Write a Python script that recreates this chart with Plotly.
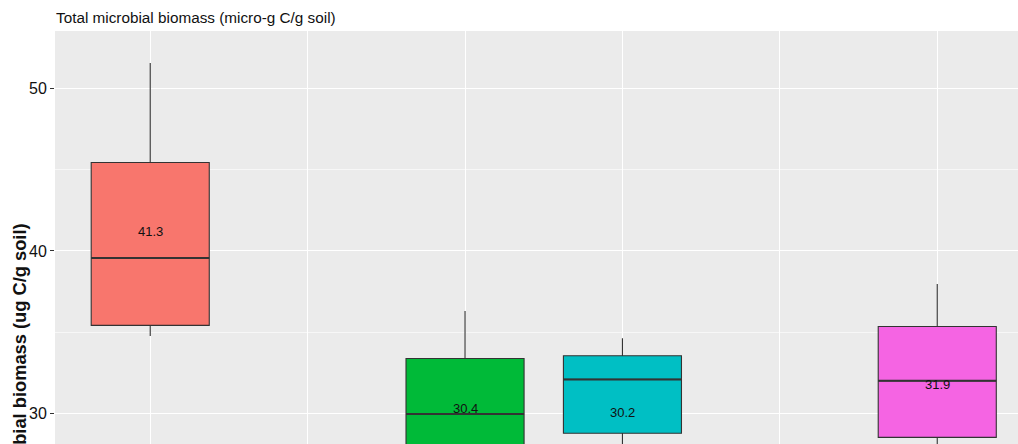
import plotly.graph_objects as go

# ---- data ----
positions = [1, 3, 4, 6]                      # category slots (6 slots on the axis)
colors = ["#F8766D", "#00BA38", "#00BFC4", "#F564E3"]
upper_whisker = [51.58, 36.30, 34.62, 37.96]
q3_values = [45.45, 33.38, 33.55, 35.35]
medians = [39.57, 29.96, 32.09, 32.00]
q1_values = [35.42, 26.50, 28.77, 28.52]
lower_whisker = [34.76, 24.00, 26.00, 26.00]
means = [41.3, 30.4, 30.2, 31.9]
mean_labels = ["41.3", "30.4", "30.2", "31.9"]
category_slots = [1, 2, 3, 4, 5, 6]
y_ticks = [30, 40, 50]
y_minor = [35, 45]

FONT = "Liberation Sans, Arial, sans-serif"
BOX_W = 0.75

fig = go.Figure()
for i in range(len(positions)):
    fig.add_trace(go.Box(
        x=[positions[i]],
        q1=[q1_values[i]], median=[medians[i]], q3=[q3_values[i]],
        lowerfence=[lower_whisker[i]], upperfence=[upper_whisker[i]],
        width=BOX_W,
        whiskerwidth=0,
        fillcolor=colors[i],
        line=dict(color="#333333", width=1.1),
        boxpoints=False,
        showlegend=False,
        hoverinfo="skip",
    ))

# thicker median bars (ggplot draws the median twice as thick)
med_x, med_y = [], []
for p, m in zip(positions, medians):
    med_x += [p - BOX_W / 2, p + BOX_W / 2, None]
    med_y += [m, m, None]
fig.add_trace(go.Scatter(
    x=med_x, y=med_y, mode="lines",
    line=dict(color="#333333", width=2),
    showlegend=False, hoverinfo="skip",
))

annotations = []
for p, m, lab in zip(positions, means, mean_labels):
    annotations.append(dict(
        x=p, y=m, xref="x", yref="y", text=lab, showarrow=False,
        xanchor="center", yanchor="middle", yshift=-2,
        font=dict(family=FONT, size=13, color="#111111"),
    ))

annotations.append(dict(
    text="<b>Total microbial biomass (ug C/g soil)</b>",
    textangle=-90,
    xref="paper", yref="paper",
    x=(19.5 - 55) / 963, y=(444 - 221) / 413,
    xanchor="center", yanchor="top",
    showarrow=False,
    font=dict(family=FONT, size=18.3, color="#111111"),
))

fig.update_layout(
    width=1018, height=444,
    margin=dict(l=55, r=0, t=31, b=0),
    paper_bgcolor="white",
    plot_bgcolor="#EBEBEB",
    font=dict(family=FONT),
    title=dict(
        text="Total microbial biomass (micro-g C/g soil)",
        x=56 / 1018, xref="container", xanchor="left",
        y=1 - 17.5 / 444, yref="container", yanchor="middle",
        font=dict(family=FONT, size=15.3, color="#111111"),
    ),
    xaxis=dict(
        range=[0.395, 6.513],
        tickmode="array", tickvals=category_slots,
        showticklabels=False, ticks="",
        showgrid=True, gridcolor="white", gridwidth=1.1,
        zeroline=False, showline=False,
    ),
    yaxis=dict(
        range=[28.11, 53.55],
        tickmode="array", tickvals=y_ticks,
        ticks="outside", ticklen=4, tickcolor="#333333", tickwidth=1,
        tickfont=dict(family=FONT, size=16, color="#111111"),
        showgrid=True, gridcolor="white", gridwidth=1.1,
        minor=dict(tickmode="array", tickvals=y_minor, showgrid=True,
                   gridcolor="#F7F7F7", gridwidth=0.6, ticks=""),
        zeroline=False, showline=False,
    ),
    annotations=annotations,
)

fig.write_html("out.html")
